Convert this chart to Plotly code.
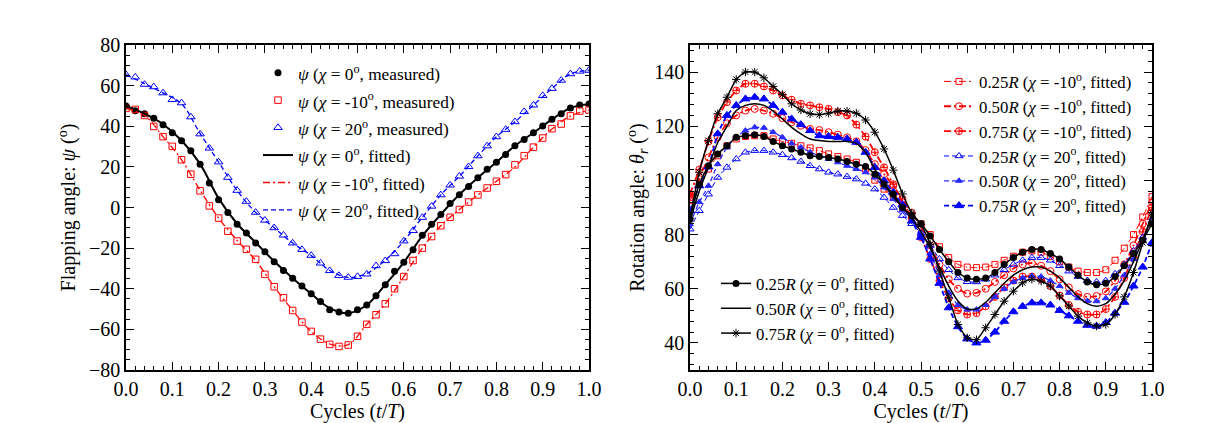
import plotly.graph_objects as go

# ---------------- data ----------------
t_meas = [round(0.02 * i, 2) for i in range(51)]
t_fit = [round(0.04 * i, 2) for i in range(26)]

# Left panel: flapping angle, measured (every 0.02)
psi_0_meas = [50, 47.6, 46.1, 43.9, 40.8, 36.8, 32.9, 27.9, 21.3, 12.1, 3.8, -2.4, -8.2, -12.5, -17.5,
              -21.8, -26.7, -31, -34.8, -38.6, -42.5, -46.3, -50.3, -51.4, -52, -50.3,
              -48, -43.4, -38, -31.4, -26.9, -20.8, -13.7, -8.2, -3.4, 2.0, 6.3, 10.4, 14.7, 18.8,
              22.3, 26.1, 30.4, 33.5, 36.8, 40.1, 43.4, 46.1, 49, 50.5, 51]
psi_m10_meas = [48.8, 48.3, 45.3, 39.9, 34.9, 30.1, 23.5, 16.4, 8.2, 0.8, -5.2, -11.7, -16.5, -20.6,
                -25.5, -32.9, -39, -44.4, -50.7, -56.4, -61, -64.8, -67.4, -68.4, -67.7, -63.4,
                -57.5, -52.8, -47.4, -40, -34, -26.1, -20, -14.3, -9, -4.8, -1, 2.7, 6.2, 9.6,
                12.9, 16.2, 21, 25.5, 29.7, 34.2, 38.8, 41.1, 45.1, 47.5, 48]
psi_20_meas = [65.4, 64.2, 60.6, 59.4, 56.4, 53.1, 51.5, 44.6, 36.2, 29.2, 22.4, 14.8, 8.4, 3, -2.4,
               -6.3, -10, -13.6, -17.5, -20.7, -23.6, -27.4, -31.1, -33.5, -34.4, -34,
               -32.8, -28.7, -26.2, -22.8, -16.5, -11.4, -4.9, 0.6, 6.2, 11, 15.4, 20.1, 25.4, 30.3,
               34.8, 38.4, 42.2, 47.2, 50.4, 55.1, 58.6, 62.6, 65.8, 67.1, 67.5]

# Left panel: fitted (every 0.04)
psi_0_fit = [50, 46.2, 41, 33, 21.5, 4.5, -8, -17.2, -26.5, -34.8, -42.5, -49.5, -52, -48, -38, -27,
             -14, -3.4, 6.4, 14.7, 22.3, 30.4, 36.8, 43.4, 49, 51]
psi_m10_fit = [48.8, 45.3, 34.9, 23.5, 8.5, -5.2, -16.2, -26, -39, -50.7, -61, -67.2, -67.5, -57.5,
               -47.4, -34, -20, -9, -1, 6.2, 12.9, 20, 29.7, 38.6, 45, 48]
psi_20_fit = [65.4, 61, 56.4, 51, 36.5, 22.4, 8.4, -2.4, -10, -17.5, -23.6, -31, -34.4, -32.5, -26,
              -16.5, -4.9, 6.2, 15.4, 25.4, 34.8, 42.2, 50.4, 58.6, 65.8, 67.5]

# Right panel: rotation angle (every 0.02)
th_025_0 = [85.7, 98.6, 105.4, 109.8, 112.8, 115.9, 116.5, 116.9, 116.2, 114.4, 112.8, 111.6, 110.4,
            109.1, 108.8, 108.5, 107.9, 107, 106, 105.1, 102.3, 98.6, 94.9, 90, 87,
            84, 79.5, 74.5, 70, 66, 64, 63.5, 64, 66, 69, 71.5, 73.5, 74.5, 74.5, 73, 71, 68, 65,
            62.5, 61.5, 62, 64.5, 68.5, 73, 78, 84]
th_050_0 = [85, 96, 105, 114, 120, 125.8, 127.7, 128.3, 127.7, 125.6, 122.7, 119.6, 117.2, 115.3,
            114.7, 114.4, 114.4, 114.4, 113.7, 110.4, 104.2, 98.6, 94, 90, 86,
            81, 75, 68, 61, 55.5, 52.5, 52.5, 55, 58.5, 62, 65, 67, 68, 68, 66.5, 64, 60.5, 57,
            54.5, 53.5, 54.5, 58, 63, 70, 78, 87]
th_075_0 = [86, 103, 114.7, 124.6, 130.7, 137.3, 140, 140, 137.9, 134.7, 131.7, 128.3, 126, 124.6,
            124.3, 124.8, 125.6, 125.6, 124.8, 122.3, 117.8, 111.6, 103.8, 95, 88,
            83.8, 76.4, 66.5, 56.7, 46.8, 41.9, 41.2, 45.6, 50.5, 55.4, 59.1, 62.2, 63.5, 62.8, 61,
            57.3, 53.6, 49.9, 47.4, 46.2, 46.8, 50.5, 57, 66, 77, 88]
th_025_m10 = [92.5, 98.6, 104.2, 109.1, 112.8, 115.3, 116.2, 116.5, 116.5, 115.3, 114.4, 113.7, 112.8,
              112, 111, 109.8, 108.8, 107.9, 106.7, 104.2, 100.1, 96.8, 93.7, 90, 87,
              84, 80, 75.5, 71.5, 69, 68, 67.8, 68, 69, 70.5, 72, 73.5, 74, 73.5, 72, 70, 68, 66.5,
              66, 66, 67, 70.5, 75, 80, 86.5, 94]
th_050_m10 = [93.7, 100.5, 108.5, 115.9, 121.1, 124, 125.8, 126.4, 125.8, 124.6, 123, 121.5, 120.2,
              119, 118.6, 117.8, 116.9, 115.9, 114.4, 111.2, 106, 102.3, 98, 93, 88,
              83, 76, 69, 63.5, 60, 58.2, 58.5, 60, 62.5, 65, 67.5, 69, 69.5, 68.5, 66.5, 63.5, 60.5,
              58, 57, 57.3, 59, 63, 69, 76, 84, 92]
th_075_m10 = [94.9, 104, 114.4, 123.3, 128.9, 133.2, 135.7, 135.7, 134.7, 133.2, 131.4, 129.8, 128.3,
              127.7, 127, 126.4, 125.2, 124, 120.6, 116.2, 110.4, 104.8, 98.6, 92, 86,
              79, 71, 63, 56.5, 52, 50.5, 51, 53.5, 57, 60.5, 63, 64.5, 64.5, 63.5, 61, 57.5, 54,
              51.5, 50.5, 50.5, 52.5, 57, 64, 72, 81, 90]
th_025_20 = [82, 88.8, 94.9, 101.1, 104.8, 107.9, 110.4, 111, 111, 110.4, 109.5, 108.3, 107, 105.4,
             104.2, 103, 102.3, 101.4, 100.5, 98.9, 96.8, 93.7, 90, 87, 84,
             80.5, 76, 71, 67, 64, 62.6, 62.5, 63.5, 65, 67, 69, 70.5, 71.5, 71.5, 70.5, 68.5, 66.5,
             64.5, 63, 62.5, 63, 65.5, 69, 74, 79, 85]
th_050_20 = [83.8, 92, 98, 106, 112.2, 115.9, 118.4, 119.6, 119.4, 117.8, 115.9, 113.7, 112.2, 110.4,
             109.1, 107.9, 106.7, 105.4, 104.2, 103, 101.1, 97.4, 93.1, 89, 85,
             80, 73, 65, 58.5, 54, 52.3, 52.3, 54, 57, 60, 62.5, 64, 64.7, 64.5, 63, 61, 58.5, 56.5,
             55.5, 55.4, 56.5, 60, 65, 71, 78, 86]
th_075_20 = [88.8, 98, 105, 117.2, 124, 127.7, 130.1, 130.7, 130.1, 127.7, 125.2, 122.7, 120.6, 118.4,
             116.5, 116.2, 115.9, 115.3, 114.1, 110.4, 104.8, 99.9, 95.6, 91, 85,
             79, 71, 62, 53, 46, 41.5, 40, 41, 44, 48, 51.5, 53.5, 54.8, 54.8, 54, 52, 50, 48, 46.5,
             46.2, 47.5, 51, 55, 61, 68, 77]

FONT = "Liberation Serif"
RED = "#ff0000"
BLUE = "#0000ff"
DASH = "5px,3px"
DASHDOT = "7px,3px,2px,3px"


def lg(txt, px):
    return '<span style="font-size:%spx">%s</span>' % (px, txt)


fig = go.Figure()

# ---- left panel ----
LPX = 17.3
meas_style = [
    (psi_0_meas, "<i>ψ</i> (<i>χ</i> = 0<sup>o</sup>, measured)",
     dict(symbol="circle", size=7, color="black")),
    (psi_m10_meas, "<i>ψ</i> (<i>χ</i> = -10<sup>o</sup>, measured)",
     dict(symbol="square-open", size=6.5, color=RED, line=dict(width=1))),
    (psi_20_meas, "<i>ψ</i> (<i>χ</i> = 20<sup>o</sup>, measured)",
     dict(symbol="triangle-up-open", size=7.5, color=BLUE, line=dict(width=1))),
]
for ys, name, mk in meas_style:
    fig.add_trace(go.Scatter(x=t_meas, y=ys, mode="markers", name=lg(name, LPX), marker=mk,
                             xaxis="x", yaxis="y", legend="legend"))

fit_style = [
    (psi_0_fit, "<i>ψ</i> (<i>χ</i> = 0<sup>o</sup>, fitted)", dict(color="black", width=2, dash="solid")),
    (psi_m10_fit, "<i>ψ</i> (<i>χ</i> = -10<sup>o</sup>, fitted)", dict(color=RED, width=1.3, dash=DASHDOT)),
    (psi_20_fit, "<i>ψ</i> (<i>χ</i> = 20<sup>o</sup>, fitted)", dict(color=BLUE, width=1.3, dash=DASH)),
]
for ys, name, ln in fit_style:
    ln = dict(ln, shape="spline", smoothing=1.0)
    fig.add_trace(go.Scatter(x=t_fit, y=ys, mode="lines", name=lg(name, LPX), line=ln,
                             xaxis="x", yaxis="y", legend="legend"))

# ---- right panel ----
right_top = [
    (th_025_m10, "0.25<i>R</i> (<i>χ</i> = -10<sup>o</sup>, fitted)", RED, 1.0, DASHDOT,
     dict(symbol="square-open", size=6)),
    (th_050_m10, "0.50<i>R</i> (<i>χ</i> = -10<sup>o</sup>, fitted)", RED, 1.8, DASHDOT,
     dict(symbol="circle-open", size=7)),
    (th_075_m10, "0.75<i>R</i> (<i>χ</i> = -10<sup>o</sup>, fitted)", RED, 1.8, DASHDOT,
     dict(symbol="circle-cross-open", size=7)),
    (th_025_20, "0.25<i>R</i> (<i>χ</i> = 20<sup>o</sup>, fitted)", BLUE, 1.0, DASH,
     dict(symbol="triangle-up-open", size=7)),
    (th_050_20, "0.50<i>R</i> (<i>χ</i> = 20<sup>o</sup>, fitted)", "#2a2aff", 1.3, DASH,
     dict(symbol="triangle-up", size=6)),
    (th_075_20, "0.75<i>R</i> (<i>χ</i> = 20<sup>o</sup>, fitted)", BLUE, 1.8, DASH,
     dict(symbol="triangle-up", size=8)),
]
for ys, name, col, w, dash, mk in right_top:
    mk = dict(mk, color=col, line=dict(width=1, color=col))
    fig.add_trace(go.Scatter(x=t_meas, y=ys, mode="lines+markers", name=name,
                             line=dict(color=col, width=w, dash=dash, shape="spline", smoothing=0.6),
                             marker=mk, xaxis="x2", yaxis="y2", legend="legend2"))

right_bot = [
    (th_025_0, "0.25<i>R</i> (<i>χ</i> = 0<sup>o</sup>, fitted)", "lines+markers",
     dict(symbol="circle", size=7, color="black")),
    (th_050_0, "0.50<i>R</i> (<i>χ</i> = 0<sup>o</sup>, fitted)", "lines", None),
    (th_075_0, "0.75<i>R</i> (<i>χ</i> = 0<sup>o</sup>, fitted)", "lines+markers",
     dict(symbol="asterisk-open", size=7, color="black", line=dict(width=1, color="black"))),
]
for ys, name, mode, mk in right_bot:
    kw = dict(marker=mk) if mk else {}
    fig.add_trace(go.Scatter(x=t_meas, y=ys, mode=mode, name=name,
                             line=dict(color="black", width=1.5, shape="spline", smoothing=0.6),
                             xaxis="x2", yaxis="y2", legend="legend3", **kw))

W, H = 1216, 423
ytop, ybot = 37, 362
ydom = [1 - ybot / H, 1 - ytop / H]

axis_common = dict(
    showline=True, linecolor="black", linewidth=1.5, mirror="allticks",
    ticks="inside", ticklen=8, tickwidth=1.3, tickcolor="black",
    showgrid=False, zeroline=False, automargin=False,
    tickfont=dict(family=FONT, size=20, color="black"),
    title_font=dict(family=FONT, size=20, color="black"),
)

xcommon = dict(axis_common, range=[0, 1], dtick=0.1, tick0=0, tickformat=".1f",
               minor=dict(dtick=0.02, ticklen=4, tickwidth=1, tickcolor="black", ticks="inside"),
               title=dict(text="Cycles (<i>t</i>/<i>T</i>)", standoff=4))

fig.update_layout(
    width=W, height=H,
    margin=dict(l=0, r=0, t=0, b=0, autoexpand=False),
    paper_bgcolor="white", plot_bgcolor="white",
    font=dict(family=FONT, color="black"),
    xaxis=dict(xcommon, domain=[118 / W, 581 / W], anchor="y"),
    yaxis=dict(axis_common, domain=ydom, anchor="x", range=[-80, 80], dtick=20, tick0=0,
               minor=dict(dtick=5, ticklen=4, tickwidth=1, tickcolor="black", ticks="inside"),
               title=dict(text="Flapping angle: <i>ψ</i> (<sup>o</sup>)", standoff=8)),
    xaxis2=dict(xcommon, domain=[682 / W, 1144 / W], anchor="y2"),
    yaxis2=dict(axis_common, domain=ydom, anchor="x2", range=[30, 150], dtick=20, tick0=0,
                minor=dict(dtick=4, ticklen=4, tickwidth=1, tickcolor="black", ticks="inside"),
                title=dict(text="Rotation angle: <i>θ<sub>r</sub></i> (<sup>o</sup>)", standoff=4)),
    legend=dict(x=250 / W, y=1 - 46 / H, xanchor="left", yanchor="top",
                bgcolor="rgba(0,0,0,0)", font=dict(family=FONT, size=18.8, color="black"),
                tracegroupgap=0),
    legend2=dict(x=931 / W, y=1 - 56 / H, xanchor="left", yanchor="top",
                 bgcolor="rgba(0,0,0,0)", font=dict(family=FONT, size=16.8, color="black")),
    legend3=dict(x=708 / W, y=1 - 258 / H, xanchor="left", yanchor="top",
                 bgcolor="rgba(0,0,0,0)", font=dict(family=FONT, size=16.8, color="black")),
    showlegend=True,
)

fig.write_html("out.html")
